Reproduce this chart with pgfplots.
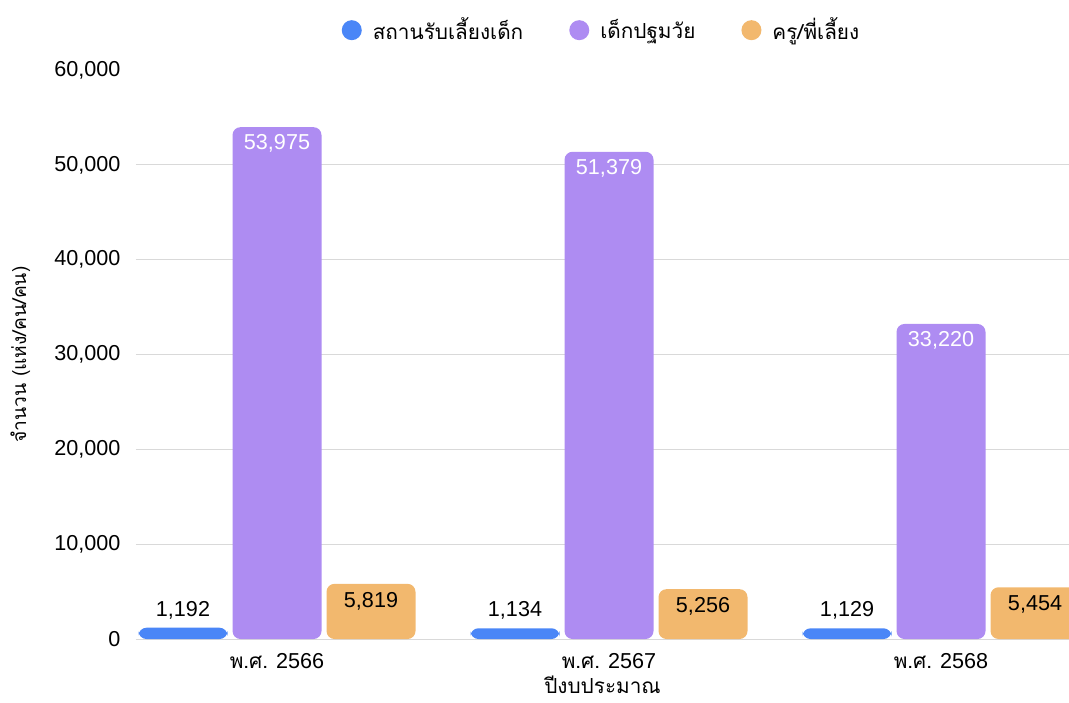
\documentclass[border=0pt]{standalone}
\usepackage{fontspec}
\setmainfont{Liberation Sans}
\newfontfamily\thaifont[Script=Thai,Scale=0.96]{Loma}
\usepackage{pgfplots}
\pgfplotsset{compat=1.18}
\definecolor{cblue}{HTML}{4A86F7}
\definecolor{cpurple}{HTML}{AE8CF2}
\definecolor{corange}{HTML}{F2B86E}

\begin{document}
\fontsize{10.8}{13}\selectfont
\begin{tikzpicture}
\useasboundingbox (-68pt,-31.5pt) rectangle (466.5pt,319.5pt);
\begin{axis}[
  scale only axis,
  width=466.5pt, height=284.5pt,
  xmin=-0.4247, xmax=2.3855,
  % bars are lifted by 3000 so that their lower round corners fall below the plot
  ymin=3000, ymax=63000,
  y filter/.expression={y+3000},
  scaled y ticks=false,
  /pgf/number format/assume math mode=true,
  ybar, bar width=44.5pt,
  xtick={0,1,2},
  xticklabels={{\thaifont พ.ศ.} 2566,{\thaifont พ.ศ.} 2567,{\thaifont พ.ศ.} 2568},
  ytick={3000,13000,23000,33000,43000,53000},
  yticklabels={0,{10,000},{20,000},{30,000},{40,000},{50,000}},
  extra y ticks={63000},
  extra y tick labels={60{,}000},
  extra y tick style={grid=none},
  ymajorgrids,
  major grid style={draw=black!15},
  axis line style={draw=none},
  tick style={draw=none},
  yticklabel style={xshift=-4pt},
  xticklabel style={yshift=1pt},
  xlabel={\thaifont ปีงบประมาณ},
  ylabel={\fontsize{10}{12}\selectfont\thaifont จำนวน (แห่ง/คน/คน)},
  every axis x label/.style={at={(axis description cs:0.5,-0.081)}, anchor=center},
  every axis y label/.style={at={(axis description cs:-0.124,0.5)}, anchor=center, rotate=90},
  point meta=rawy,
  nodes near coords={\pgfmathprintnumber[fixed,1000 sep={,}]{\pgfplotspointmeta}},
  legend style={at={(0.5,1.07)}, anchor=center, draw=none, legend columns=-1,
    /tikz/every even column/.append style={column sep=21pt}},
  legend image code/.code={\fill (0pt,0pt) circle (5pt); \path (8.5pt,0pt);},
]
\addplot[fill=cblue, draw=none, rounded corners=4pt, bar shift=-47pt,
  every node near coord/.append style={anchor=south, yshift=0.5pt, text=black, rounded corners=0pt}]
  coordinates {(0,1192) (1,1134) (2,1129)};
\addplot[fill=cpurple, draw=none, rounded corners=4pt, bar shift=0pt,
  every node near coord/.append style={anchor=north, inner sep=0pt, yshift=-3.5pt, text=white, rounded corners=0pt}]
  coordinates {(0,53975) (1,51379) (2,33220)};
\addplot[fill=corange, draw=none, rounded corners=4pt, bar shift=47pt,
  every node near coord/.append style={anchor=north, inner sep=0pt, yshift=-4pt, text=black, rounded corners=0pt}]
  coordinates {(0,5819) (1,5256) (2,5454)};
\legend{{\thaifont สถานรับเลี้ยงเด็ก},{\thaifont เด็กปฐมวัย},{\thaifont ครู/พี่เลี้ยง}}
\end{axis}
\end{tikzpicture}
\end{document}
